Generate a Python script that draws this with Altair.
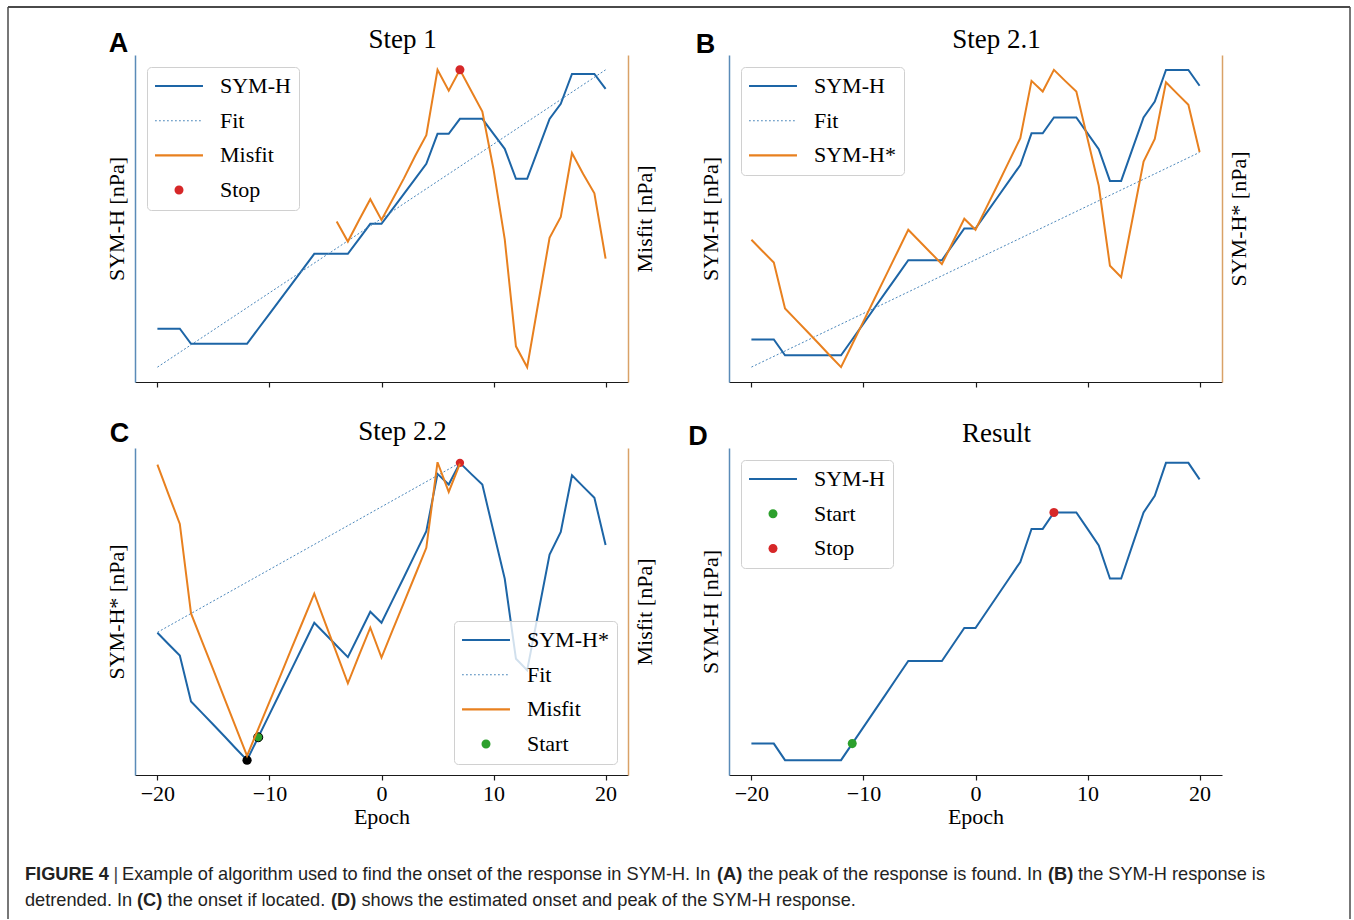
import altair as alt
import pandas as pd

# ---------------- data (arbitrary nPa-like units) ----------------
epochs = list(range(-20, 21))
sym_h = [1, 1, 1, 0, 0, 0, 0, 0, 0, 1, 2, 3, 4, 5, 6, 6, 6, 6, 7, 8, 8,
         9, 10, 11, 12, 14, 14, 15, 15, 15, 14, 13, 11, 11, 13, 15, 16, 18, 18, 18, 17]
sym_h_star = [8.57, 7.8, 7.04, 3.95, 3.16, 2.38, 1.59, 0.78, 0.0,
              1.54, 3.08, 4.62, 6.16, 7.7, 9.24, 8.47, 7.7, 6.93, 8.45, 9.98, 9.24,
              10.78, 12.3, 13.86, 15.4, 19.26, 18.54, 20.0, 19.26, 18.54,
              15.36, 12.2, 6.82, 6.05, 9.93, 13.83, 15.36, 19.17, 18.4, 17.65, 14.48]
fit_a_epochs = [-20, 20]
fit_a_values = [-1.56, 18.27]
misfit_a_epochs = list(range(-4, 21))
misfit_a_values = [9.8, 8.45, 9.9, 11.3, 9.9, 11.3, 12.7, 14.2, 15.6, 20.0, 18.6, 20.0, 18.6,
                   17.2, 13.3, 8.6, 1.4, 0.0, 4.35, 8.7, 10.1, 14.4, 13.0, 11.7, 7.3]
fit_b_epochs = [-20, 20]
fit_b_values = [-0.74, 12.8]
fit_c_epochs = [-20, 7]
fit_c_values = [8.6, 20.0]
misfit_c_epochs = list(range(-20, 8))
misfit_c_values = [19.84, 17.8, 15.8, 9.7, 7.76, 5.83, 3.88, 1.93, 0.0, 1.84, 3.67, 5.5, 7.37, 9.2,
                   11.04, 9.0, 6.98, 4.94, 6.85, 8.73, 6.69, 8.57, 10.43, 12.3, 14.17, 20.0, 17.98, 19.9]
start_epoch, stop_epoch, min_epoch = -11, 7, -12
tick_values = [-20, -10, 0, 10, 20]

# axis domains (matplotlib-like 5% margins)
x_domain = [-22, 22]
a_left, a_right = [-2.55, 19.26], [-1.0, 21.0]
b_left, b_right = [-1.68, 18.94], [-1.0, 21.0]
c_left, c_right = [-1.0, 21.0], [-1.31, 20.97]
d_left = [-0.9, 18.9]

# ---------------- style ----------------
SERIF = "Liberation Serif"
SANS = "Liberation Sans"
BLUE = "#1d65a6"
ORANGE = "#e8801f"
FIT_BLUE = "#4b87bb"
RED = "#d62728"
GREEN = "#2ca02c"
LSPINE = "#5a8bb8"
RSPINE = "#d9a267"
W, H = 493, 327
SYM_SIZE = 484  # sqrt = 22 px, unit path coordinate = 11 px
CIRCLE = "M0.41,0A0.41,0.41,0,1,1,-0.41,0A0.41,0.41,0,1,1,0.41,0Z"
BAR = "M-2.18,-0.1H2.18V0.1H-2.18Z"
DOTS = "".join("M%.3f,-0.05h0.16v0.1h-0.16Z" % (-2.18 + i * 0.3636) for i in range(12))


def frame(xs, ys, name):
    return pd.DataFrame({"epoch": xs, "value": ys, "series": name})


def at(xs, ys, e):
    return ys[xs.index(e)]


ONE = pd.DataFrame({"k": [0]})


def x_enc(show):
    ax = dict(values=tick_values, ticks=True, tickSize=5, tickColor="#1a1a1a", tickWidth=1.2,
              domainColor="#1a1a1a", domainWidth=1.2, grid=False, labels=show,
              labelFont=SERIF, labelFontSize=22, labelColor="black", labelPadding=3,
              labelExpr="replace(datum.label, '-', '\u2212')",
              titleFont=SERIF, titleFontSize=22, titleFontWeight="normal",
              titleColor="black", titlePadding=2)
    ax["title"] = "Epoch" if show else None
    return alt.X("epoch:Q", scale=alt.Scale(domain=x_domain, nice=False, zero=False),
                 axis=alt.Axis(**ax))


def y_enc(domain, title, side):
    extra = {"titleAngle": 270, "titleBaseline": "top"} if side == "right" else {}
    ax = alt.Axis(orient=side, labels=False, ticks=False, grid=False,
                  domainColor=LSPINE if side == "left" else RSPINE, domainWidth=1.5,
                  title=title, titleFont=SERIF, titleFontSize=22, titleFontWeight="normal",
                  titleColor="black", titlePadding=7 if side == "left" else 6, **extra)
    return alt.Y("value:Q", scale=alt.Scale(domain=domain, nice=False, zero=False), axis=ax)


def make_encodings(entries, orient, offset):
    names = [e[0] for e in entries]
    legend = alt.Legend(title=None, orient=orient, offset=offset, padding=8, rowPadding=12.7,
                        labelFont=SERIF, labelFontSize=22, labelColor="black", labelOffset=30,
                        labelLimit=400, symbolSize=SYM_SIZE, symbolStrokeWidth=0, symbolOffset=13,
                        symbolOpacity=1, cornerRadius=4, strokeColor="#d0d0d0",
                        fillColor="rgba(255,255,255,0.8)")
    color = alt.Color("series:N", scale=alt.Scale(domain=names, range=[e[2] for e in entries]),
                      legend=legend)
    shapes = [CIRCLE if k == "dot" else (DOTS if k == "dash" else BAR) for _, k, _ in entries]
    shape = alt.Shape("series:N", scale=alt.Scale(domain=names, range=shapes), legend=legend)
    return color, shape


def line(df, x, y, enc, width=2.0, dash=None):
    color, shape = enc
    kw = {"strokeWidth": width}
    if dash:
        kw["strokeDash"] = dash
    return alt.Chart(df).mark_line(**kw).encode(x=x, y=y, color=color)


def dot(df, x, y, enc, **kw):
    color, shape = enc
    return alt.Chart(df).mark_point(filled=True, size=SYM_SIZE, opacity=1, **kw).encode(
        x=x, y=y, color=color, shape=shape)


def legend_helper(df, x, y, enc):
    # invisible filled points: give the legend its fill colours and shapes
    color, shape = enc
    return alt.Chart(df).mark_point(filled=True, size=0, opacity=0).encode(
        x=x, y=y, color=color, shape=shape)


def label_text(txt, dx, dy, font, size, weight, align="center"):
    return alt.Chart(ONE).mark_text(text=txt, font=font, fontSize=size, fontWeight=weight,
                                    align=align, baseline="alphabetic", color="black").encode(
        x=alt.value(dx), y=alt.value(dy))


def letter(ch, dx, dy):
    return label_text(ch, dx, dy, SANS, 27, "bold")


def panel_title(txt, dy):
    return label_text(txt, W / 2 + 21, dy, SERIF, 27, "normal")


# ---------------- panel A ----------------
xa = x_enc(False)
enc_a = make_encodings([("SYM-H", "line", BLUE), ("Fit", "dash", FIT_BLUE),
                        ("Misfit", "line", ORANGE), ("Stop", "dot", RED)], "top-left", 12)
ya_l = y_enc(a_left, "SYM-H [nPa]", "left")
ya_r = y_enc(a_right, "Misfit [nPa]", "right")
left_a = alt.layer(
    line(frame(epochs, sym_h, "SYM-H"), xa, ya_l, enc_a),
    line(frame(fit_a_epochs, fit_a_values, "Fit"), xa, ya_l, enc_a, 1.0, [2, 2]),
)
right_a = alt.layer(
    line(frame(misfit_a_epochs, misfit_a_values, "Misfit"), xa, ya_r, enc_a),
    dot(frame([stop_epoch], [at(misfit_a_epochs, misfit_a_values, stop_epoch)], "Stop"), xa, ya_r, enc_a),
)

# decorations: frame and caption (positions relative to panel A's plot origin)
OX, OY = 135, 55
frame_layers = [
    alt.Chart(ONE).mark_rule(color="#4a4a4a", strokeWidth=2).encode(
        x=alt.value(8 - OX), x2=alt.value(1350 - OX), y=alt.value(7 - OY)),
    alt.Chart(ONE).mark_rule(color="#4a4a4a", strokeWidth=1.5).encode(
        x=alt.value(8 - OX), y=alt.value(7 - OY), y2=alt.value(919 - OY)),
    alt.Chart(ONE).mark_rule(color="#4a4a4a", strokeWidth=1.5).encode(
        x=alt.value(1350 - OX), y=alt.value(7 - OY), y2=alt.value(919 - OY)),
]
caption_segments = [
    ("FIGURE 4", 25, 880, "bold", "#222222"),
    ("|", 113.5, 880, "normal", "#444444"),
    ("Example of algorithm used to find the onset of the response in SYM-H. In", 122, 880, "normal", "#222222"),
    ("(A)", 717, 880, "bold", "#222222"),
    ("the peak of the response is found. In", 748, 880, "normal", "#222222"),
    ("(B)", 1048, 880, "bold", "#222222"),
    ("the SYM-H response is", 1078, 880, "normal", "#222222"),
    ("detrended. In", 25, 906, "normal", "#222222"),
    ("(C)", 137, 906, "bold", "#222222"),
    ("the onset if located.", 167.5, 906, "normal", "#222222"),
    ("(D)", 331, 906, "bold", "#222222"),
    ("shows the estimated onset and peak of the SYM-H response.", 361.5, 906, "normal", "#222222"),
]
caption_layers = [
    alt.Chart(ONE).mark_text(text=t, font=SANS, fontSize=18.2, fontWeight=w, color=c,
                             align="left", baseline="alphabetic").encode(
        x=alt.value(cx - OX), y=alt.value(cy - OY))
    for (t, cx, cy, w, c) in caption_segments
]

panel_a = alt.layer(left_a, right_a, letter("A", -16.5, -3), panel_title("Step 1", -7),
                    *frame_layers, *caption_layers) \
    .resolve_scale(y="independent").properties(width=W, height=H)

# ---------------- panel B ----------------
xb = x_enc(False)
enc_b = make_encodings([("SYM-H", "line", BLUE), ("Fit", "dash", FIT_BLUE),
                        ("SYM-H*", "line", ORANGE)], "top-left", 12)
yb_l = y_enc(b_left, "SYM-H [nPa]", "left")
yb_r = y_enc(b_right, "SYM-H* [nPa]", "right")
left_b = alt.layer(
    line(frame(epochs, sym_h, "SYM-H"), xb, yb_l, enc_b),
    line(frame(fit_b_epochs, fit_b_values, "Fit"), xb, yb_l, enc_b, 1.0, [2, 2]),
    legend_helper(frame(epochs, sym_h, "SYM-H"), xb, yb_l, enc_b),
)
right_b = alt.layer(line(frame(epochs, sym_h_star, "SYM-H*"), xb, yb_r, enc_b))
panel_b = alt.layer(left_b, right_b, letter("B", -23.5, -2), panel_title("Step 2.1", -7)) \
    .resolve_scale(y="independent").properties(width=W, height=H)

# ---------------- panel C ----------------
xc = x_enc(True)
enc_c = make_encodings([("SYM-H*", "line", BLUE), ("Fit", "dash", FIT_BLUE),
                        ("Misfit", "line", ORANGE), ("Start", "dot", GREEN)], "bottom-right", 11)
yc_l = y_enc(c_left, "SYM-H* [nPa]", "left")
yc_r = y_enc(c_right, "Misfit [nPa]", "right")
left_c = alt.layer(
    line(frame(epochs, sym_h_star, "SYM-H*"), xc, yc_l, enc_c),
    line(frame(fit_c_epochs, fit_c_values, "Fit"), xc, yc_l, enc_c, 1.0, [2, 2]),
    alt.Chart(frame([min_epoch], [at(epochs, sym_h_star, min_epoch)], "Min"))
    .mark_circle(size=85, opacity=1, color="black").encode(x=xc, y=yc_l),
    dot(frame([start_epoch], [at(epochs, sym_h_star, start_epoch)], "Start"), xc, yc_l, enc_c,
        stroke="black", strokeWidth=1),
    alt.Chart(frame([stop_epoch], [at(epochs, sym_h_star, stop_epoch)], "Stop"))
    .mark_circle(size=70, opacity=1, color=RED).encode(x=xc, y=yc_l),
)
right_c = alt.layer(
    line(frame(misfit_c_epochs, misfit_c_values, "Misfit"), xc, yc_r, enc_c),
)
panel_c = alt.layer(left_c, right_c, letter("C", -15.5, -6), panel_title("Step 2.2", -8)) \
    .resolve_scale(y="independent").properties(width=W, height=H)

# ---------------- panel D ----------------
xd = x_enc(True)
enc_d = make_encodings([("SYM-H", "line", BLUE), ("Start", "dot", GREEN), ("Stop", "dot", RED)],
                       "top-left", 12)
yd = y_enc(d_left, "SYM-H [nPa]", "left")
panel_d = alt.layer(
    line(frame(epochs, sym_h, "SYM-H"), xd, yd, enc_d),
    dot(frame([start_epoch], [at(epochs, sym_h, start_epoch)], "Start"), xd, yd, enc_d),
    dot(frame([stop_epoch], [at(epochs, sym_h, stop_epoch)], "Stop"), xd, yd, enc_d),
    letter("D", -31, -3),
    panel_title("Result", -6),
).properties(width=W, height=H)

# ---------------- assemble ----------------
IND = dict(color="independent", shape="independent")
chart = alt.concat(panel_a, panel_b, panel_c, panel_d, columns=2,
                   spacing={"row": 66, "column": 101}, bounds="flush") \
    .resolve_scale(**IND).resolve_legend(**IND) \
    .properties(padding={"left": 7, "top": 6, "right": 0, "bottom": 0}, background="white") \
    .configure_view(strokeWidth=0)

chart.save("out.html", embed_options={"renderer": "svg", "actions": False})
